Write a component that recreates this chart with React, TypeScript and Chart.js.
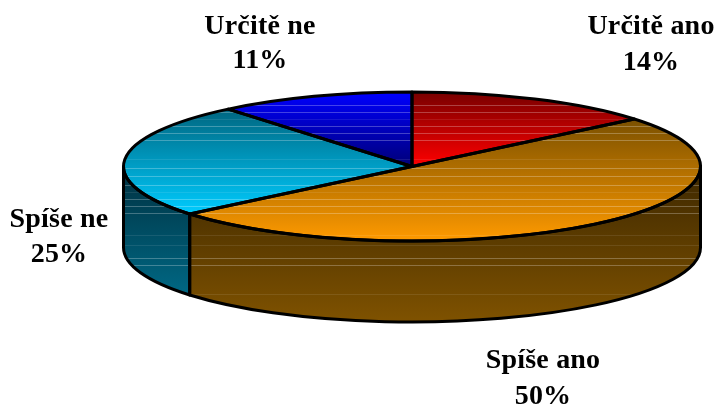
import React, { useEffect, useRef } from "react";
import { Chart, registerables } from "chart.js";

Chart.register(...registerables);

// ---- data ----
const categories = ["Určitě ano", "Spíše ano", "Spíše ne", "Určitě ne"];
const shares = [14, 50, 25, 11];
const topFrom = ["#780000", "#7a5000", "#006680", "#0000ff"];
const topTo = ["#ff0000", "#ff9a00", "#00ccff", "#000078"];
const wallFrom = ["#400000", "#3c2700", "#003040", "#000040"];
const wallTo = ["#800000", "#7f5200", "#006884", "#000080"];
const labelAnchors = [
  [651, 27, 63],
  [543, 361, 397],
  [59, 220, 255],
  [260, 27, 61],
];
const sheenBright = [105, 112, 126, 133, 140, 168, 176, 185, 199, 206, 213, 258, 265];
const sheenFaint = [119, 159, 192, 235, 245, 294];

// ---- layout ----
const WIDTH = 719;
const HEIGHT = 405;
const CX = 412;
const CY = 166.5;
const RX = 288.5;
const RY = 74.5;
const DEPTH = 81;
const BASE_R = 166.5;
const SX = RX / BASE_R;
const SY = RY / BASE_R;

const TAU = Math.PI * 2;
const total = shares.reduce((a, b) => a + b, 0);

function sliceAngles(i: number) {
  const before = shares.slice(0, i).reduce((a, b) => a + b, 0);
  return [-Math.PI / 2 + (before / total) * TAU, -Math.PI / 2 + ((before + shares[i]) / total) * TAU];
}

function sinExtent(a: number, b: number) {
  let lo = Math.min(0, Math.sin(a), Math.sin(b));
  let hi = Math.max(0, Math.sin(a), Math.sin(b));
  for (let k = -2; k <= 2; k++) {
    const up = -Math.PI / 2 + k * TAU;
    const down = Math.PI / 2 + k * TAU;
    if (up >= a && up <= b) lo = -1;
    if (down >= a && down <= b) hi = 1;
  }
  return [lo, hi];
}

function wallRange(a: number, b: number): [number, number] | null {
  const from = Math.max(a, 0);
  const to = Math.min(b, Math.PI);
  return to > from ? [from, to] : null;
}

const pie3d = {
  id: "pie3d",
  beforeDatasetsDraw(chart: any) {
    const ctx = chart.ctx as CanvasRenderingContext2D;
    const arcs = chart.getDatasetMeta(0).data;
    // walls of the disc, from the library's own arc angles
    arcs.forEach((arc: any, i: number) => {
      const range = wallRange(arc.startAngle, arc.endAngle);
      if (!range) return;
      const [, hi] = sinExtent(arc.startAngle, arc.endAngle);
      const g = ctx.createLinearGradient(0, CY, 0, CY + RY * hi + DEPTH);
      g.addColorStop(0, wallFrom[i]);
      g.addColorStop(1, wallTo[i]);
      ctx.beginPath();
      ctx.ellipse(CX, CY, RX, RY, 0, range[0], range[1]);
      ctx.ellipse(CX, CY + DEPTH, RX, RY, 0, range[1], range[0], true);
      ctx.closePath();
      ctx.fillStyle = g;
      ctx.fill();
    });
    // squash the flat pie that Chart.js is about to draw
    ctx.save();
    ctx.translate(CX, CY);
    ctx.scale(SX, SY);
    ctx.translate(-arcs[0].x, -arcs[0].y);
  },
  afterDatasetsDraw(chart: any) {
    const ctx = chart.ctx as CanvasRenderingContext2D;
    ctx.restore();
    const arcs = chart.getDatasetMeta(0).data;

    // sheen rows, clipped to the disc silhouette
    ctx.save();
    ctx.beginPath();
    ctx.ellipse(CX, CY, RX, RY, 0, Math.PI, TAU);
    ctx.ellipse(CX, CY + DEPTH, RX, RY, 0, 0, Math.PI);
    ctx.closePath();
    ctx.clip();
    ctx.lineWidth = 1;
    const rows = (ys: number[], style: string) => {
      ctx.strokeStyle = style;
      ys.forEach((y) => {
        ctx.beginPath();
        ctx.moveTo(CX - RX, y + 0.5);
        ctx.lineTo(CX + RX, y + 0.5);
        ctx.stroke();
      });
    };
    rows(sheenBright, "rgba(255,255,255,0.26)");
    rows(sheenFaint, "rgba(255,255,255,0.09)");
    ctx.restore();

    // outlines
    ctx.strokeStyle = "#000";
    ctx.lineWidth = 3;
    ctx.lineJoin = "round";
    arcs.forEach((arc: any) => {
      const range = wallRange(arc.startAngle, arc.endAngle);
      if (!range) return;
      ctx.beginPath();
      ctx.ellipse(CX, CY, RX, RY, 0, range[0], range[1]);
      ctx.ellipse(CX, CY + DEPTH, RX, RY, 0, range[1], range[0], true);
      ctx.closePath();
      ctx.stroke();
    });
    arcs.forEach((arc: any) => {
      ctx.beginPath();
      ctx.moveTo(CX, CY);
      ctx.ellipse(CX, CY, RX, RY, 0, arc.startAngle, arc.endAngle);
      ctx.closePath();
      ctx.stroke();
    });

    // labels
    ctx.fillStyle = "#000";
    ctx.font = 'bold 28px "Liberation Serif"';
    ctx.textAlign = "center";
    ctx.textBaseline = "middle";
    (ctx as any).letterSpacing = "0.2px";
    categories.forEach((name, i) => {
      const [x, y1, y2] = labelAnchors[i];
      ctx.fillText(name, x, y1);
      ctx.fillText(`${shares[i]}%`, x, y2);
    });
    (ctx as any).letterSpacing = "0px";
  },
};

export default function App() {
  const ref = useRef<HTMLCanvasElement>(null);
  useEffect(() => {
    const canvas = ref.current!;
    const chart = new Chart(canvas, {
      type: "pie",
      data: {
        labels: categories,
        datasets: [
          {
            data: shares,
            borderWidth: 0,
            backgroundColor: (c: any) => {
              const i = c.dataIndex;
              if (i === undefined) return "#000";
              const [a, b] = sliceAngles(i);
              const [lo, hi] = sinExtent(a, b);
              const g = c.chart.ctx.createLinearGradient(0, CY + BASE_R * lo, 0, CY + BASE_R * hi);
              g.addColorStop(0, topFrom[i]);
              g.addColorStop(1, topTo[i]);
              return g;
            },
          },
        ],
      },
      options: {
        responsive: false,
        animation: false,
        events: [],
        layout: { padding: { left: CX * 2 - WIDTH, right: 0, top: 0, bottom: HEIGHT - CY * 2 } },
        plugins: { legend: { display: false }, tooltip: { enabled: false } },
      },
      plugins: [pie3d],
    } as any);
    return () => chart.destroy();
  }, []);
  return (
    <canvas
      ref={ref}
      width={WIDTH}
      height={HEIGHT}
      style={{ position: "fixed", left: 0, top: 0, display: "block" }}
    />
  );
}
